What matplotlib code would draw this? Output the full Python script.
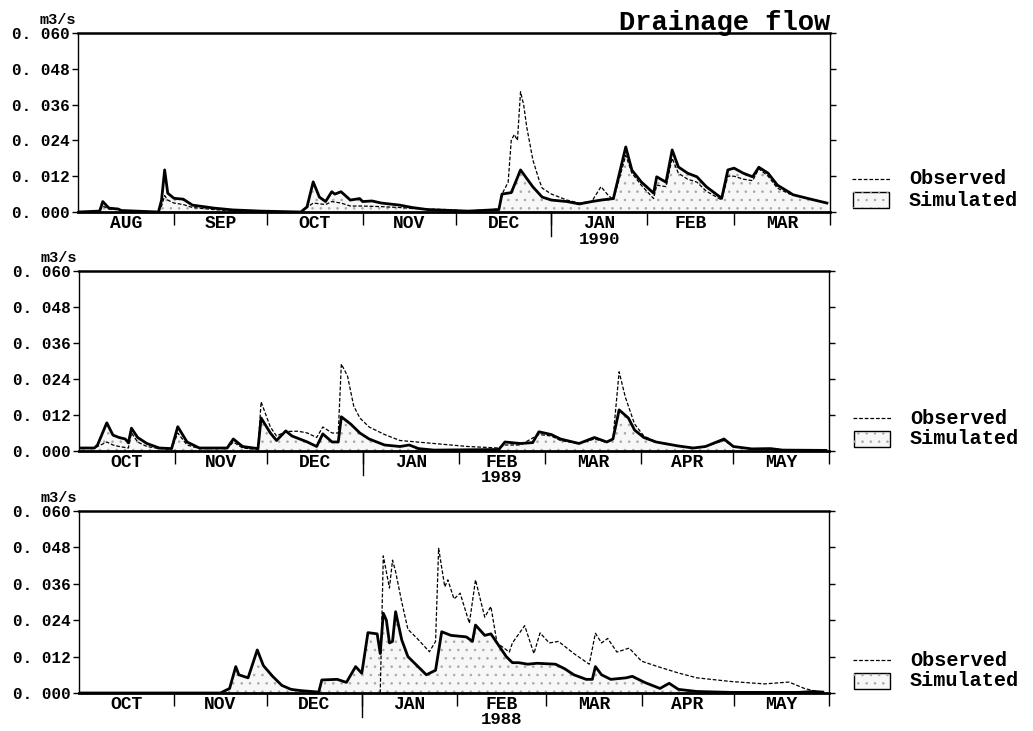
import matplotlib
matplotlib.use("Agg")
import matplotlib.pyplot as plt
import matplotlib.dates as mdates
import matplotlib.transforms as mtransforms
from matplotlib.patches import Rectangle
from matplotlib.lines import Line2D
from matplotlib.ticker import FixedLocator, FixedFormatter, NullFormatter
import pandas as pd

W, H = 1033, 731
plt.rcParams['font.family'] = ['Liberation Mono', 'DejaVu Sans Mono']
plt.rcParams['hatch.linewidth'] = 0.6

# ---------------- data ----------------
title = "Drainage flow"
unit_label = "m3/s"
y_ticks = [0.0, 0.012, 0.024, 0.036, 0.048, 0.060]
y_tick_labels = ["0. 000", "0. 012", "0. 024", "0. 036", "0. 048", "0. 060"]
legend_labels = ["Observed", "Simulated"]

# Panel 1 (Aug 1989 - Mar 1990)
p1_start, p1_end = "1989-08-01", "1990-04-01"
p1_months = ["AUG", "SEP", "OCT", "NOV", "DEC", "JAN", "FEB", "MAR"]
p1_year, p1_year_under = "1990", "1990-01"
p1_sim_day = [0, 7, 8, 10, 13, 14, 26, 27, 28, 29, 31, 34, 37, 44, 50, 59, 72, 74, 76, 78, 80,
              82, 83, 85, 88, 91, 92, 95, 98, 104, 108, 113, 126, 136, 137, 140, 141, 143, 147,
              150, 153, 158, 162, 166, 169, 173, 177, 179, 182, 186, 187, 190, 192, 194, 197,
              200, 203, 208, 210, 212, 215, 218, 220, 223, 226, 230, 231, 236, 240, 242]
p1_sim_val = [0.0, 0.0003, 0.0035, 0.0013, 0.0010, 0.0005, 0.0, 0.004, 0.0141, 0.0063, 0.0046,
              0.0043, 0.0023, 0.0013, 0.0007, 0.0003, 0.0, 0.0017, 0.0101, 0.005, 0.0035,
              0.0068, 0.006, 0.0068, 0.004, 0.0045, 0.0035, 0.0037, 0.003, 0.0023, 0.0015,
              0.0008, 0.0003, 0.0008, 0.006, 0.0065, 0.009, 0.0141, 0.0084, 0.005, 0.004,
              0.0035, 0.0027, 0.0035, 0.004, 0.0045, 0.0218, 0.014, 0.0101, 0.0063, 0.0118,
              0.010, 0.0208, 0.0151, 0.013, 0.0118, 0.0085, 0.0046, 0.0141, 0.0147, 0.013,
              0.0118, 0.015, 0.013, 0.009, 0.0065, 0.0058, 0.0045, 0.0035, 0.003]
p1_obs_day = [0, 7, 8, 10, 13, 14, 26, 27, 28, 29, 31, 34, 37, 44, 50, 59, 72, 74, 76, 80, 82,
              85, 88, 92, 98, 104, 108, 113, 120, 126, 136, 137, 139, 140, 141, 142, 143, 144,
              145, 147, 149, 150, 153, 158, 162, 166, 169, 171, 173, 177, 179, 182, 186, 187,
              190, 192, 194, 197, 200, 203, 208, 210, 212, 215, 218, 220, 223, 226, 230, 236,
              240, 242]
p1_obs_val = [0.0, 0.0003, 0.002, 0.001, 0.0008, 0.0003, 0.0, 0.002, 0.0055, 0.004, 0.003,
              0.0025, 0.0015, 0.0008, 0.0004, 0.0002, 0.0, 0.0015, 0.003, 0.0025, 0.0035,
              0.003, 0.002, 0.002, 0.0018, 0.0015, 0.0012, 0.001, 0.0008, 0.0003, 0.001,
              0.006, 0.010, 0.024, 0.026, 0.024, 0.0403, 0.036, 0.0285, 0.0174, 0.0107,
              0.008, 0.006, 0.004, 0.003, 0.0035, 0.0085, 0.006, 0.004, 0.019, 0.013, 0.009,
              0.0045, 0.009, 0.0085, 0.018, 0.013, 0.011, 0.010, 0.007, 0.004, 0.012, 0.012,
              0.011, 0.0105, 0.0145, 0.012, 0.008, 0.006, 0.0045, 0.0035, 0.003]

# Panel 2 (Oct 1988 - May 1989)
p2_start, p2_end = "1988-10-01", "1989-06-01"
p2_months = ["OCT", "NOV", "DEC", "JAN", "FEB", "MAR", "APR", "MAY"]
p2_year, p2_year_under = "1989", "1989-02"
p2_sim_day = [0, 5, 6, 9, 11, 13, 15, 16, 17, 19, 22, 26, 30, 32, 35, 39, 48, 50, 53, 58, 59,
              62, 64, 67, 69, 74, 77, 79, 82, 84, 85, 88, 91, 94, 99, 104, 107, 110, 115, 136,
              138, 143, 147, 149, 153, 156, 162, 167, 171, 173, 175, 178, 180, 183, 187, 194,
              199, 203, 209, 212, 218, 224, 228, 242]
p2_sim_val = [0.001, 0.001, 0.002, 0.0094, 0.0053, 0.0045, 0.004, 0.0027, 0.0076, 0.0045,
              0.0025, 0.001, 0.0008, 0.0081, 0.003, 0.001, 0.001, 0.004, 0.0015, 0.0008,
              0.011, 0.006, 0.0035, 0.0067, 0.005, 0.003, 0.0015, 0.0057, 0.003, 0.003,
              0.0114, 0.009, 0.006, 0.004, 0.002, 0.0015, 0.002, 0.0008, 0.0003, 0.0005,
              0.003, 0.0025, 0.0028, 0.0064, 0.0055, 0.004, 0.0025, 0.0045, 0.003, 0.004,
              0.0137, 0.011, 0.007, 0.0045, 0.003, 0.0017, 0.001, 0.0015, 0.004, 0.0015,
              0.0007, 0.0008, 0.0003, 0.0002]
p2_obs_day = [0, 5, 6, 9, 11, 13, 16, 17, 19, 22, 26, 30, 32, 35, 39, 48, 50, 53, 58, 59, 62,
              64, 67, 71, 74, 77, 79, 82, 84, 85, 87, 89, 91, 94, 99, 104, 115, 126, 136, 138,
              143, 149, 153, 156, 162, 167, 171, 173, 175, 177, 180, 183, 187, 194, 199, 203,
              209, 212, 218, 224, 228, 242]
p2_obs_val = [0.001, 0.001, 0.0015, 0.003, 0.002, 0.0015, 0.001, 0.006, 0.003, 0.0015, 0.0008,
              0.0006, 0.006, 0.002, 0.0008, 0.0008, 0.003, 0.001, 0.0005, 0.0164, 0.008,
              0.005, 0.0065, 0.0066, 0.006, 0.0045, 0.008, 0.006, 0.006, 0.029, 0.025, 0.015,
              0.011, 0.008, 0.0055, 0.0035, 0.0025, 0.0015, 0.001, 0.002, 0.002, 0.0055,
              0.005, 0.0035, 0.0025, 0.004, 0.003, 0.004, 0.0264, 0.018, 0.009, 0.005, 0.003,
              0.0017, 0.001, 0.0015, 0.0035, 0.0015, 0.0007, 0.0008, 0.0003, 0.0002]

# Panel 3 (Oct 1987 - May 1988)
p3_start, p3_end = "1987-10-01", "1988-06-01"
p3_months = ["OCT", "NOV", "DEC", "JAN", "FEB", "MAR", "APR", "MAY"]
p3_year, p3_year_under = "1988", "1988-02"
p3_sim_day = [0, 46, 49, 51, 52, 55, 58, 60, 63, 66, 69, 72, 78, 79, 84, 87, 90, 92, 94, 97, 98,
              99, 100, 101, 102, 103, 105, 107, 110, 113, 116, 118, 121, 126, 128, 129, 132,
              134, 139, 141, 143, 146, 149, 155, 158, 161, 165, 167, 168, 170, 173, 178, 180,
              184, 189, 192, 195, 201, 212, 234, 239, 242]
p3_sim_val = [0.0, 0.0, 0.0015, 0.0087, 0.006, 0.005, 0.0142, 0.009, 0.0055, 0.0025, 0.0012,
              0.0008, 0.0003, 0.0043, 0.0045, 0.0035, 0.0087, 0.0065, 0.0199, 0.0195, 0.013,
              0.0263, 0.024, 0.0165, 0.017, 0.0268, 0.0175, 0.012, 0.009, 0.006, 0.0075,
              0.0202, 0.019, 0.0185, 0.017, 0.0224, 0.019, 0.0195, 0.012, 0.010, 0.010,
              0.0095, 0.0098, 0.0095, 0.008, 0.006, 0.0045, 0.0045, 0.0087, 0.006, 0.0045,
              0.005, 0.0055, 0.0035, 0.0015, 0.0032, 0.0012, 0.0005, 0.0002, 0.0002, 0.0005,
              0.0003]
p3_obs_day = [98, 99, 101, 102, 103, 105, 107, 110, 114, 116, 117, 119, 120, 122, 124, 127, 129,
              132, 134, 136, 140, 141, 145, 148, 150, 153, 156, 161, 166, 168, 170, 172, 175,
              179, 183, 188, 195, 201, 212, 223, 231, 236, 240, 242]
p3_obs_val = [0.0, 0.0452, 0.0346, 0.0438, 0.040, 0.030, 0.021, 0.018, 0.0136, 0.017, 0.0477,
              0.035, 0.0373, 0.031, 0.0329, 0.023, 0.0373, 0.025, 0.0285, 0.0165, 0.0135,
              0.0165, 0.0222, 0.013, 0.0198, 0.0165, 0.017, 0.013, 0.0095, 0.0197, 0.0165,
              0.018, 0.0135, 0.0148, 0.0105, 0.0088, 0.0066, 0.005, 0.0038, 0.003, 0.0036,
              0.0015, 0.0005, 0.0003]

panels = [
    dict(start=p1_start, end=p1_end, months=p1_months, year=p1_year, year_under=p1_year_under,
         sd=p1_sim_day, sv=p1_sim_val, od=p1_obs_day, ov=p1_obs_val),
    dict(start=p2_start, end=p2_end, months=p2_months, year=p2_year, year_under=p2_year_under,
         sd=p2_sim_day, sv=p2_sim_val, od=p2_obs_day, ov=p2_obs_val),
    dict(start=p3_start, end=p3_end, months=p3_months, year=p3_year, year_under=p3_year_under,
         sd=p3_sim_day, sv=p3_sim_val, od=p3_obs_day, ov=p3_obs_val),
]

# axes rectangles in pixels: left, top, right, bottom
axes_px = [(78, 33, 830, 212), (79, 271, 829, 451), (79, 511, 829, 693)]

fig = plt.figure(figsize=(W / 100, H / 100), dpi=100)

FILL_FC = '#f7f7f7'
HATCH_C = '#a8a8a8'

for i, (p, (l, t, r, b)) in enumerate(zip(panels, axes_px)):
    ax = fig.add_axes([l / W, 1 - b / H, (r - l) / W, (b - t) / H])
    wpx, hpx = r - l, b - t
    start = pd.Timestamp(p['start'])
    end = pd.Timestamp(p['end'])
    sd = [start + pd.Timedelta(days=d) for d in p['sd']]
    od = [start + pd.Timedelta(days=d) for d in p['od']]

    ax.fill_between(sd, 0, p['sv'], facecolor=FILL_FC, edgecolor=HATCH_C, hatch='..',
                    linewidth=0, zorder=1)
    ax.plot(od, p['ov'], color='black', lw=0.9, ls=(0, (3, 1.5)), zorder=3)
    ax.plot(sd, p['sv'], color='black', lw=2.0, zorder=2, solid_joinstyle='round')

    ax.set_xlim(start, end)
    ax.set_ylim(0, 0.060)

    # spines
    for s, w in [('left', 1.0), ('right', 1.0), ('top', 1.8), ('bottom', 2.0)]:
        ax.spines[s].set_linewidth(w)

    # y ticks
    ax.set_yticks(y_ticks)
    ax.set_yticklabels(y_tick_labels, fontsize=11.5, fontweight='bold')
    ax.tick_params(axis='y', which='major', direction='out', length=4.5, width=1.0,
                   left=True, right=True, labelright=False, pad=1.5)

    # month boundaries (major) and month centres (minor, labelled)
    bounds = pd.date_range(start, end, freq='MS')
    majors = [mdates.date2num(d) for d in bounds[1:]]
    centers = [mdates.date2num(a + (bnext - a) / 2) for a, bnext in zip(bounds[:-1], bounds[1:])]
    ax.xaxis.set_major_locator(FixedLocator(majors))
    ax.xaxis.set_major_formatter(NullFormatter())
    ax.xaxis.set_minor_locator(FixedLocator(centers))
    ax.xaxis.set_minor_formatter(FixedFormatter(p['months']))
    ax.tick_params(axis='x', which='major', direction='out', length=9.5, width=1.0)
    ax.tick_params(axis='x', which='minor', length=0, pad=2, labelsize=13)
    for lab in ax.xaxis.get_minorticklabels():
        lab.set_fontweight('bold')

    # longer tick at the year boundary
    trans = mtransforms.blended_transform_factory(ax.transData, ax.transAxes)
    ybound = pd.Timestamp(f"{p['year']}-01-01")
    ax.plot([ybound, ybound], [0, -24 / hpx], transform=trans, color='black', lw=1.0,
            clip_on=False)
    # year label under the chosen month
    ym = pd.Timestamp(p['year_under'] + "-01")
    ymid = ym + (ym + pd.offsets.MonthBegin(1) - ym) / 2
    ax.text(ymid, -27 / hpx, p['year'], transform=trans, ha='center', va='center',
            fontsize=12.5, fontweight='bold')

    # unit label
    ax.text(-2 / wpx, 1 + 13 / hpx, unit_label, transform=ax.transAxes, ha='right',
            va='center', fontsize=11, fontweight='bold')

    # legend (drawn manually on the right)
    y_obs = 33 / hpx
    y_sim = 12 / hpx
    ax.add_line(Line2D([774 / wpx, 812 / wpx], [y_obs, y_obs], transform=ax.transAxes,
                       color='black', lw=0.9, ls=(0, (3, 1.5)), clip_on=False))
    ax.add_patch(Rectangle((775 / wpx, 4 / hpx), 36 / wpx, 16 / hpx, transform=ax.transAxes,
                           facecolor=FILL_FC, edgecolor='black', lw=1.0, clip_on=False))
    ax.add_patch(Rectangle((775 / wpx, 4 / hpx), 36 / wpx, 16 / hpx, transform=ax.transAxes,
                           facecolor='none', edgecolor=HATCH_C, hatch='..', lw=0,
                           clip_on=False))
    ax.text(831 / wpx, y_obs, legend_labels[0], transform=ax.transAxes, ha='left',
            va='center', fontsize=14.5, fontweight='bold')
    ax.text(831 / wpx, y_sim, legend_labels[1], transform=ax.transAxes, ha='left',
            va='center', fontsize=14.5, fontweight='bold')

    if i == 0:
        ax.text(1.0, 1 + 3 / hpx, title, transform=ax.transAxes, ha='right', va='baseline',
                fontsize=19.5, fontweight='bold')

fig.savefig("out.png", dpi=100)
